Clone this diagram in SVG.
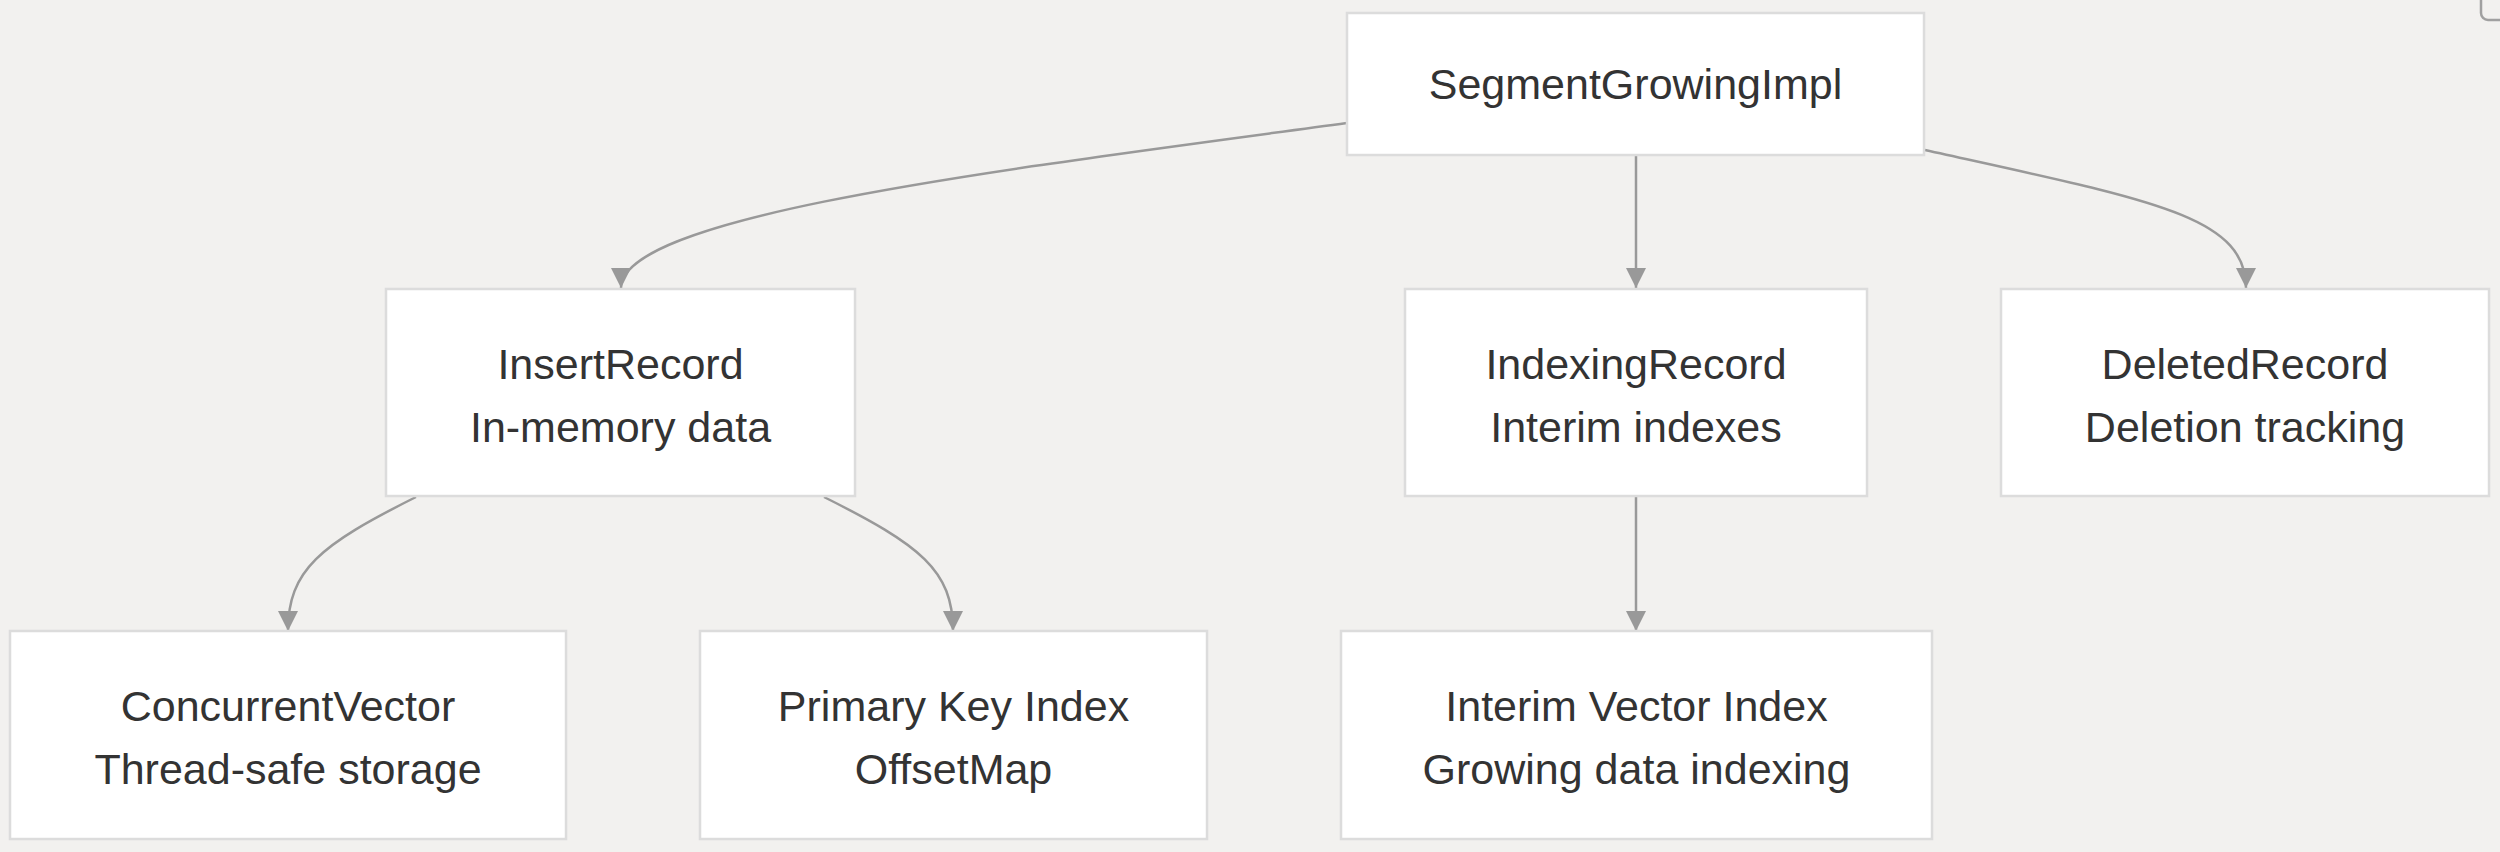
<svg xmlns="http://www.w3.org/2000/svg" width="2500" height="852" viewBox="0 0 2500 852">
<defs>
<style>
.node rect{fill:#ffffff;stroke:#dcdcdc;stroke-width:2.5}
.node text{font-family:"Liberation Sans",Arial,sans-serif;font-size:43px;fill:#333333;text-anchor:middle;dominant-baseline:central}
.edge{fill:none;stroke:#999999;stroke-width:2.5}
</style>
<marker id="arrow" viewBox="0 0 20 20" refX="20" refY="10" markerWidth="20" markerHeight="20" markerUnits="userSpaceOnUse" orient="auto">
<path d="M0,0 L20,10 L0,20 Z" fill="#999999"/>
</marker>
</defs>
<rect x="0" y="0" width="2500" height="852" fill="#f2f1ef"/>
<rect x="2481" y="-12" width="32" height="32" rx="7" fill="none" stroke="#a0a0a0" stroke-width="2.5"/>
<g id="connectors">
<path class="edge" d="M1347,123 C1000,170 621,215 621,288" marker-end="url(#arrow)"/>
<path class="edge" d="M1636,155 L1636,288" marker-end="url(#arrow)"/>
<path class="edge" d="M1925,150 C2150,200 2246,215 2246,288" marker-end="url(#arrow)"/>
<path class="edge" d="M416,497 C320,545 288,570 288,631" marker-end="url(#arrow)"/>
<path class="edge" d="M824,497 C920,545 953,570 953,631" marker-end="url(#arrow)"/>
<path class="edge" d="M1636,497 L1636,631" marker-end="url(#arrow)"/>
</g>
<g id="SegmentGrowingImpl" class="node">
<rect x="1347" y="13" width="577" height="142"/>
<text x="1635.5" y="84">SegmentGrowingImpl</text>
</g>
<g id="InsertRecord" class="node">
<rect x="386" y="289" width="469" height="207"/>
<text x="620.5" y="364">InsertRecord</text>
<text x="620.5" y="427">In-memory data</text>
</g>
<g id="IndexingRecord" class="node">
<rect x="1405" y="289" width="462" height="207"/>
<text x="1636" y="364">IndexingRecord</text>
<text x="1636" y="427">Interim indexes</text>
</g>
<g id="DeletedRecord" class="node">
<rect x="2001" y="289" width="488" height="207"/>
<text x="2245" y="364">DeletedRecord</text>
<text x="2245" y="427">Deletion tracking</text>
</g>
<g id="ConcurrentVector" class="node">
<rect x="10" y="631" width="556" height="208"/>
<text x="288" y="706">ConcurrentVector</text>
<text x="288" y="769">Thread-safe storage</text>
</g>
<g id="PrimaryKeyIndex" class="node">
<rect x="700" y="631" width="507" height="208"/>
<text x="953.5" y="706">Primary Key Index</text>
<text x="953.5" y="769">OffsetMap</text>
</g>
<g id="InterimVectorIndex" class="node">
<rect x="1341" y="631" width="591" height="208"/>
<text x="1636.5" y="706">Interim Vector Index</text>
<text x="1636.5" y="769">Growing data indexing</text>
</g>
</svg>
